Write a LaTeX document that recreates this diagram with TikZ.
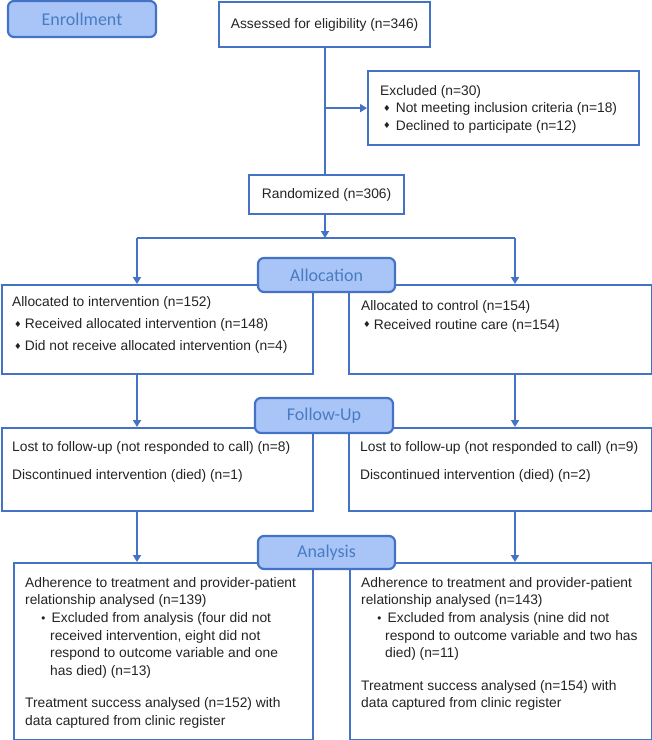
\documentclass[tikz,border=0pt]{standalone}
\usepackage{fontspec}
\setmainfont{Liberation Sans}
\newfontfamily\stagefont{Carlito}
\newfontfamily\symfont{DejaVu Sans}
\usetikzlibrary{arrows.meta}

\definecolor{flowblue}{RGB}{68,114,196}
\definecolor{stagefill}{RGB}{169,197,248}
\definecolor{stagetext}{RGB}{72,124,194}
\definecolor{bodytext}{RGB}{35,35,35}

\newcommand{\dmd}{\raisebox{.2ex}{\symfont\fontsize{8.5}{8}\selectfont\char"2666}}
\newcommand{\dotb}{{\symfont\fontsize{11}{9}\selectfont\char"2022}}

\tikzset{
  box/.style={draw=flowblue, line width=2.2pt, anchor=north west, inner sep=0pt, text=bodytext, font=\fontsize{13.8}{17.6}\selectfont},
  stage/.style={draw=flowblue, line width=2.2pt, fill=stagefill, rounded corners=6pt, text=stagetext, font=\stagefont\fontsize{18}{20}\selectfont, minimum width=137, minimum height=34, inner sep=0pt},
  txt/.style={anchor=north west, align=left, inner sep=0pt, text=bodytext, font=\fontsize{13.8}{17.6}\selectfont},
  flow/.style={draw=flowblue, line width=2.2pt},
}

\begin{document}
\begin{tikzpicture}[x=1pt, y=-1pt, >={Triangle[length=7pt,width=8pt]}]
\useasboundingbox (0,0) rectangle (652,740);

\node[box, minimum width=211, minimum height=45] (assessed) at (218,1) {Assessed for eligibility (n=346)};
\node[box, minimum width=271, minimum height=74,
  label={[txt, xshift=13, yshift=-15]north west:{Excluded (n=30)\\
    \hspace*{3pt}\dmd\hspace{5pt}Not meeting inclusion criteria (n=18)\\
    \hspace*{3pt}\dmd\hspace{5pt}Declined to participate (n=12)}}] (excluded) at (367,70) {};
\node[box, minimum width=155, minimum height=39] (random) at (248,174) {Randomized (n=306)};

\node[box, minimum width=311, minimum height=89,
  label={[txt, xshift=11, yshift=-12.5]north west:{Allocated to intervention (n=152)\\[4.4pt]
    \hspace*{2pt}\dmd\hspace{3pt}Received allocated intervention (n=148)\\[4.4pt]
    \hspace*{2pt}\dmd\hspace{3pt}Did not receive allocated intervention (n=4)}}] (allocL) at (1,284) {};
\node[box, minimum width=303, minimum height=89,
  label={[txt, xshift=13, yshift=-16]north west:{Allocated to control (n=154)\\[1.4pt]
    \hspace*{2pt}\dmd\hspace{3pt}Received routine care (n=154)}}] (allocR) at (348,284) {};

\node[box, minimum width=311, minimum height=83,
  label={[txt, xshift=11, yshift=-14.5]north west:{Lost to follow-up (not responded to call) (n=8)\\[10.4pt]
    Discontinued intervention (died) (n=1)}}] (follL) at (1,427) {};
\node[box, minimum width=303, minimum height=83,
  label={[txt, xshift=12, yshift=-14.5]north west:{Lost to follow-up (not responded to call) (n=9)\\[10.4pt]
    Discontinued intervention (died) (n=2)}}] (follR) at (348,427) {};

\node[box, minimum width=299, minimum height=177,
  label={[txt, xshift=12, yshift=-15]north west:{Adherence to treatment and provider-patient\\
    relationship analysed (n=139)\\
    \hspace*{15pt}\dotb\hspace{5pt}Excluded from analysis (four did not\\
    \hspace*{25pt}received intervention, eight did not\\
    \hspace*{25pt}respond to outcome variable and one\\
    \hspace*{25pt}has died) (n=13)\\[15pt]
    Treatment success analysed (n=152) with\\
    data captured from clinic register}}] (anaL) at (13,562) {};
\node[box, minimum width=302, minimum height=177,
  label={[txt, xshift=12, yshift=-15]north west:{Adherence to treatment and provider-patient\\
    relationship analysed (n=143)\\
    \hspace*{15pt}\dotb\hspace{5pt}Excluded from analysis (nine did not\\
    \hspace*{24pt}respond to outcome variable and two has\\
    \hspace*{24pt}died) (n=11)\\[15pt]
    Treatment success analysed (n=154) with\\
    data captured from clinic register}}] (anaR) at (349,562) {};

\coordinate (split) at (325,238);
\coordinate (colL) at (137,0);
\coordinate (colR) at (515,0);

\draw[flow] (assessed.south -| split) -- (random.north -| split);
\draw[flow, ->] (split |- excluded.west) -- (excluded.west);
\draw[flow, ->] (random.south -| split) -- (split);
\draw[flow] (split -| colL) -- (split -| colR);
\draw[flow, ->] (split -| colL) -- (allocL.north -| colL);
\draw[flow, ->] (split -| colR) -- (allocR.north -| colR);
\draw[flow, ->] (allocL.south -| colL) -- (follL.north -| colL);
\draw[flow, ->] (allocR.south -| colR) -- (follR.north -| colR);
\draw[flow, ->] (follL.south -| colL) -- (anaL.north -| colL);
\draw[flow, ->] (follR.south -| colR) -- (anaR.north -| colR);

\node[stage, minimum width=148, minimum height=36] (enroll) at (82,19) {Enrollment};
\node[stage] (allocation) at (326.5,275) {Allocation};
\node[stage, minimum width=138, minimum height=35] (followup) at (324,415.5) {Follow-Up};
\node[stage, minimum height=33] (analysis) at (326.5,552.5) {Analysis};
\end{tikzpicture}
\end{document}
